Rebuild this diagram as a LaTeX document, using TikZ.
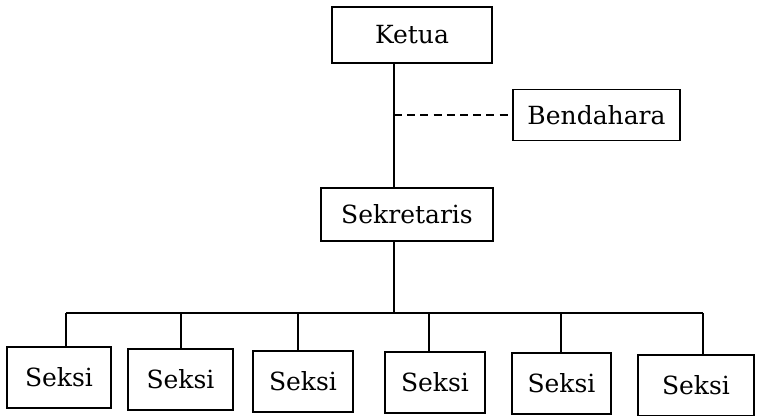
\documentclass[tikz,border=0pt]{standalone}
\usepackage{fontspec}
\setmainfont{DejaVu Serif}
\usepackage{tikz}
\tikzset{
    unit/.style={draw, line width=0.8pt, inner sep=0pt, font=\fontsize{12.5}{14}\selectfont},
    link/.style={line width=0.8pt},
    staff/.style={line width=0.8pt, dash pattern=on 4pt off 2.6pt}
}

\begin{document}
\begin{tikzpicture}[x=0.5pt, y=-0.5pt]
    \useasboundingbox (0,0) rectangle (758,416);
    % Pengurus inti
    \node[unit, minimum width=80pt, minimum height=28pt] (ketua) at (412,35) {Ketua};
    \node[unit, minimum width=83.5pt, minimum height=25.5pt] (bendahara) at (596.5,115) {Bendahara};
    \node[unit, minimum width=86pt, minimum height=26.5pt] (sekretaris) at (407,214.5) {Sekretaris};
    \coordinate (spine) at (394,0);
    \coordinate (bus) at (0,313);
    \draw[link] (ketua.south -| spine) -- (sekretaris.north -| spine);
    \draw[staff] (spine |- bendahara.west) -- (bendahara.west);
    \draw[link] (sekretaris.south -| spine) -- (spine |- bus);

    % Seksi-seksi
    \foreach \i/\x/\t/\w/\d in {1/59/347/52/66, 2/180.5/349/52.5/181, 3/303/351/50/298,
                                4/435/352/50/429, 5/561.5/353/49.5/561, 6/696/355/58/703} {
        \node[unit, minimum width=\w pt, minimum height=30.5pt] (seksi\i) at (\x,\t+30.5) {Seksi};
        \draw[link] (seksi\i.north -| \d,0) -- (bus -| \d,0);
    }
    \draw[link] (bus -| 66,0) -- (bus -| 703,0);
\end{tikzpicture}
\end{document}
